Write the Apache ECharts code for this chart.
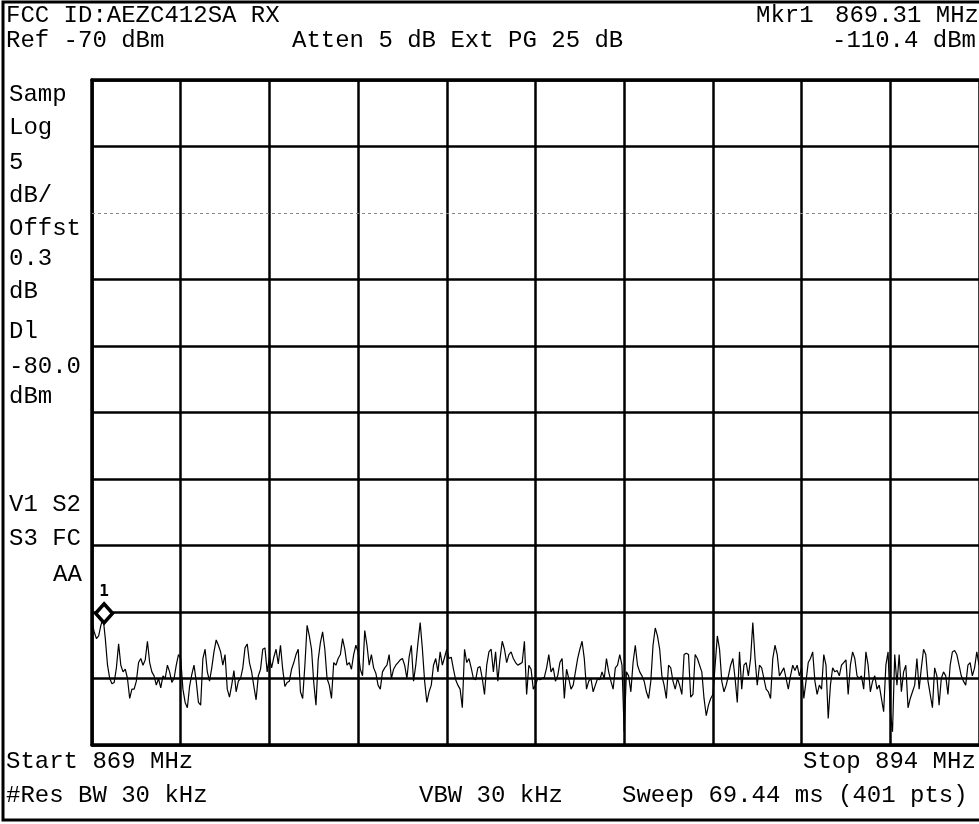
<!DOCTYPE html>
<html><head><meta charset="utf-8">
<script src="https://cdn.jsdelivr.net/npm/echarts@6/dist/echarts.min.js"></script>
<style>html,body{margin:0;padding:0;background:#fff;overflow:hidden}#c{width:979px;height:824px}</style>
</head><body><div id="c"></div><script>
// ---- data ----
const startMHz = 869, stopMHz = 894, sweepPoints = 401;
const refLevel = -70, dbPerDiv = 5, divisions = 10;
const displayLine = -80;
const markerIndex = 5, markerLevel = -110.4, markerLabel = '1';
const traceLevels = [
-110.8,-111.5,-112,-111.8,-111,-110.4,-112,-114,-115,-115.4,-115.3,-114.2,-112.4,-114,-114.5,-114.3,-115,-116.5,-115.8,-115.8,
-115.2,-113.8,-113.5,-114,-113.6,-112.2,-113.8,-114.5,-114.8,-115.5,-115,-115.7,-114.8,-115,-114,-114.5,-115.3,-115,-114,-113.2,
-113.5,-115.8,-116.8,-117.2,-115.6,-114.7,-114,-115.2,-116.8,-117,-113.5,-112.8,-114.5,-115.2,-114.2,-113,-112.1,-112.5,-113,-114,
-113.2,-115.8,-116.4,-115.5,-114.4,-116,-115.2,-115,-114.2,-112.7,-112.4,-113.8,-114.5,-115.6,-116.6,-114.8,-114.3,-112.8,-112.7,-114.5,
-113.4,-114.2,-113.4,-112.8,-113.9,-112.5,-114.3,-115.6,-115.3,-115.2,-114.3,-113.8,-113.2,-112.8,-116,-116.5,-114,-111,-111.8,-112.8,
-115.3,-117,-113.6,-112.3,-111.5,-112.8,-115,-115.5,-116.5,-113.8,-114,-113.5,-113.2,-112,-112.8,-114,-113.8,-114.3,-113.2,-112.5,
-113,-114.3,-114.8,-111.4,-112.5,-114,-113.2,-114.2,-114.6,-115.5,-115.8,-114.5,-114.2,-114,-113.2,-115,-114.3,-114,-113.8,-113.6,
-113.5,-114,-115,-113.4,-112.5,-115.2,-114,-112.3,-110.8,-112.8,-115.2,-116.8,-116,-115.5,-114,-113.5,-114.5,-113,-114,-113.4,
-112.8,-113.5,-113.4,-114.3,-115.1,-115.5,-115.8,-117.2,-112.8,-113.8,-113.5,-114.2,-115,-115.1,-114.2,-114.1,-115,-116.2,-114,-113,
-112.8,-114.5,-113,-115.2,-113.5,-112.2,-112.8,-113.8,-113.2,-113,-113.5,-113.8,-114,-113.9,-113.8,-112.2,-116.2,-114,-114.3,-115.8,
-115.5,-115,-115.1,-115,-114.9,-114.2,-113.2,-114.5,-114.2,-115.2,-114.8,-113.8,-113.5,-116.5,-114.3,-115,-115.8,-115.5,-114.5,-113.5,
-112.8,-112.2,-113.5,-115.8,-115.2,-115,-116,-115.5,-115,-115.1,-114.5,-115,-113.5,-114.5,-115.2,-115.8,-114.2,-114,-113.2,-114,
-119,-114.5,-114.8,-116,-113.8,-112.5,-114,-114.5,-114.8,-115.2,-116,-116.5,-115.2,-112.5,-111.2,-111.8,-112.8,-114.8,-115.5,-116.5,
-114,-114.2,-115.2,-115.8,-115,-115.5,-116.2,-113.2,-113.1,-113.2,-116.4,-116.2,-113.2,-113.5,-114,-114.5,-116.5,-117.8,-117,-116.5,
-116.2,-114,-111.8,-112.8,-115.2,-116,-115.5,-114.8,-114,-113.5,-115,-116.8,-113,-115.8,-114,-113.8,-114.8,-113.5,-110.8,-113.5,
-115.5,-114,-114.2,-115,-115.8,-116,-116.5,-113.5,-112.5,-113.2,-114.8,-114.5,-114.2,-115,-115.8,-114.8,-114,-114.4,-114,-114.8,
-114.2,-116.5,-115.2,-113.8,-113.5,-113,-115.2,-116.2,-115.5,-115.8,-113.2,-114,-118,-115.5,-114.2,-114.5,-114.4,-114.8,-114,-113.8,
-113.6,-116.2,-114,-113,-113.5,-114.8,-115,-114.8,-115.8,-113,-114,-116,-115.2,-114.8,-115.8,-115.5,-116.5,-117.5,-114,-113,
-117.5,-119,-113.2,-115.5,-113.2,-116,-114.5,-114,-117.2,-116.5,-116,-115.5,-113.5,-115.8,-114.2,-112.8,-113.2,-115.2,-116.2,-117.2,
-114.2,-114.8,-117,-115,-114.5,-114.8,-116.2,-114,-113,-112.9,-113.2,-114,-114.8,-115.2,-115.5,-114,-113.8,-114.8,-114.2,-113,
-114
];
const headerTexts = [
  ['FCC ID:AEZC412SA RX', 6, 16], ['Mkr1', 756, 16], ['869.31 MHz', 835, 16],
  ['Ref -70 dBm', 6, 41], ['Atten 5 dB Ext PG 25 dB', 292, 41], ['-110.4 dBm', 832, 41]
];
const sideTexts = [
  ['Samp', 9, 95], ['Log', 9, 128], ['5', 9, 163], ['dB/', 9, 196], ['Offst', 9, 229],
  ['0.3', 9, 259], ['dB', 9, 292], ['Dl', 9, 332], ['-80.0', 9, 367], ['dBm', 9, 397],
  ['V1 S2', 9, 505], ['S3 FC', 9, 539], ['AA', 53, 575]
];
const footerTexts = [
  ['Start 869 MHz', 6, 762], ['Stop 894 MHz', 803, 762],
  ['#Res BW 30 kHz', 6, 796], ['VBW 30 kHz', 419, 796], ['Sweep 69.44 ms (401 pts)', 622, 796]
];

// ---- build ----
const bottomLevel = refLevel - dbPerDiv * divisions;
const lastIndex = sweepPoints - 1;
const traceData = traceLevels.map((v, i) => [i, v]);
const FONT = '24px "Liberation Mono", "DejaVu Sans Mono", monospace';
const mkText = ([t, x, y]) => ({ type: 'text', x, y, z: 10,
  style: { text: t, fill: '#000', font: FONT, align: 'left', verticalAlign: 'middle' } });
const hColors = [];
for (let k = 0; k <= divisions; k++) {
  hColors.push(refLevel - (divisions - k) * dbPerDiv === displayLine ? 'rgba(0,0,0,0)' : '#000');
}

const chart = echarts.init(document.getElementById('c'), null, { renderer: 'canvas' });
chart.setOption({
  animation: false,
  backgroundColor: '#fff',
  grid: { left: 92, top: 80, width: 889, height: 665 },
  xAxis: [{
    type: 'value', min: 0, max: lastIndex, interval: lastIndex / divisions,
    axisLine: { show: true, onZero: false, lineStyle: { color: '#000', width: 3.5 } },
    axisTick: { show: false }, axisLabel: { show: false },
    splitLine: { show: true, lineStyle: { color: '#000', width: 2.5 } }
  }, {
    type: 'value', position: 'top', min: 0, max: lastIndex,
    axisLine: { show: true, onZero: false, lineStyle: { color: '#000', width: 3.5 } },
    axisTick: { show: false }, axisLabel: { show: false }, splitLine: { show: false }
  }],
  yAxis: {
    type: 'value', min: bottomLevel, max: refLevel, interval: dbPerDiv,
    axisLine: { show: true, onZero: false, lineStyle: { color: '#000', width: 3.5 } },
    axisTick: { show: false }, axisLabel: { show: false },
    splitLine: { show: true, lineStyle: { color: hColors, width: 2.5 } }
  },
  series: [{
    type: 'line', data: traceData, showSymbol: false, symbol: 'none',
    lineStyle: { color: '#000', width: 1.2 }, z: 3,
    markLine: {
      silent: true, symbol: 'none', label: { show: false },
      lineStyle: { color: '#888', type: [3, 3], width: 1 },
      data: [{ yAxis: displayLine }]
    }
  }, {
    type: 'scatter', data: [[markerIndex, markerLevel]], symbol: 'diamond',
    symbolSize: [17, 19], symbolOffset: [1, -4], z: 5,
    itemStyle: { color: '#fff', borderColor: '#000', borderWidth: 3.5, opacity: 1 },
    label: { show: true, position: 'top', distance: 2, formatter: markerLabel,
      color: '#000', fontSize: 16, fontWeight: 'bold', fontFamily: 'DejaVu Sans Mono' }
  }],
  graphic: [
    { type: 'rect', shape: { x: 3, y: 2, width: 1000, height: 818 }, z: 1,
      style: { fill: null, stroke: '#000', lineWidth: 3 } },
    ...headerTexts.map(mkText), ...sideTexts.map(mkText), ...footerTexts.map(mkText)
  ]
});
</script></body></html>
